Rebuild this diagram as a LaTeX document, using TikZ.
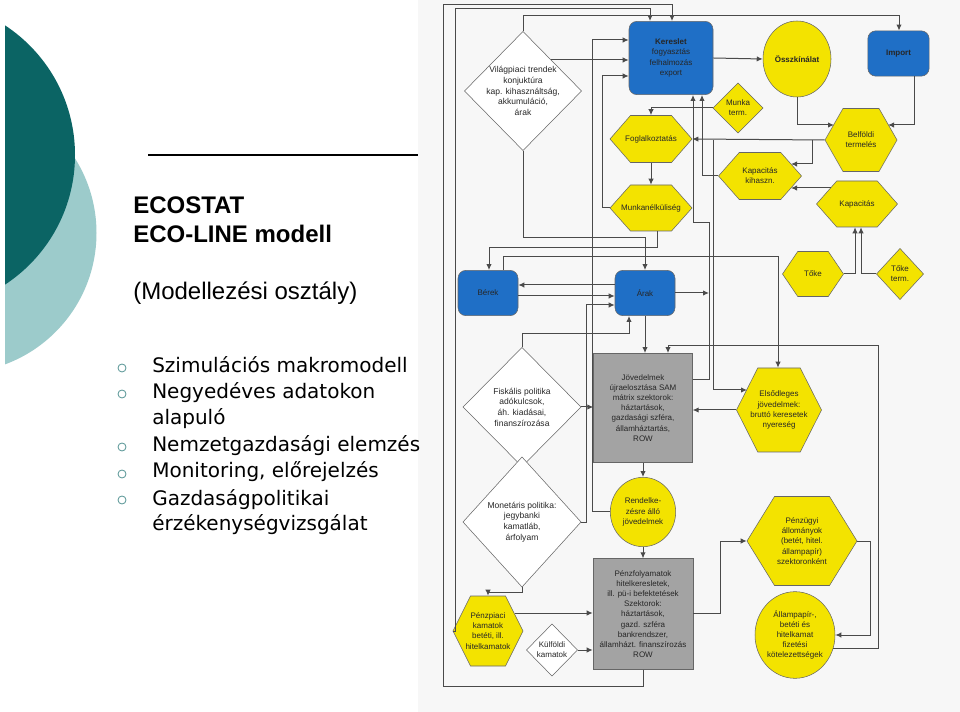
\documentclass[tikz,border=0pt]{standalone}
\usepackage{fontspec}
\setmainfont{Liberation Sans}
\newfontfamily\vfont{DejaVu Sans}
\usetikzlibrary{arrows.meta,shapes.geometric}
\definecolor{dteal}{HTML}{0B6464}
\definecolor{lteal}{HTML}{9CCBCB}
\definecolor{bblue}{HTML}{1F6FC6}
\definecolor{yel}{HTML}{F3E300}
\definecolor{gbox}{HTML}{A3A3A3}
\definecolor{lin}{HTML}{4A4A4A}
\tikzset{
 arr/.style={draw=lin,line width=0.75pt,-{Latex[length=4.5pt,width=4pt]}},
 lbl/.style={font=\fontsize{6}{7.6}\selectfont,align=center,text=black!85,inner sep=0pt},
 bigl/.style={font=\fontsize{6.4}{8}\selectfont},
 bluebox/.style={draw=black!60,fill=bblue,rounded corners=6pt,lbl},
 graybox/.style={draw=black!60,fill=gbox,lbl},
 elli/.style={draw=black!60,fill=yel,ellipse,lbl},
 bul/.style={font=\vfont\fontsize{15}{17}\selectfont,anchor=base west,inner sep=0pt}
}
\newcommand\hexn[6]{%
 \fill[yel,draw=black!60] ({#2-#4/2},#3) -- ({#2-#4/4},{#3-#5/2}) -- ({#2+#4/4},{#3-#5/2}) -- ({#2+#4/2},#3) -- ({#2+#4/4},{#3+#5/2}) -- ({#2-#4/4},{#3+#5/2}) -- cycle;
 \node[lbl,minimum width=#4*0.75pt,minimum height=#5*0.75pt] (#1) at (#2,#3) {#6};}
\newcommand\diam[8]{%
 \fill[#7,draw=black!60] ({#2-#4/2},#3) -- (#2,{#3-#5/2}) -- ({#2+#4/2},#3) -- (#2,{#3+#5/2}) -- cycle;
 \node[lbl,#8,minimum width=#4*0.75pt,minimum height=#5*0.75pt] (#1) at (#2,#3) {#6};}
\begin{document}
\begin{tikzpicture}[x=0.75pt,y=-0.75pt]
\useasboundingbox (0,0) rectangle (960,712);
\fill[white] (0,0) rectangle (960,712);
\fill[gray!6] (418,0) rectangle (960,712);
% left decoration
\begin{scope}
\clip (5,0) rectangle (300,712);
\fill[lteal] (-43.5,233) circle (140);
\fill[dteal] (-80,155) circle (155);
\end{scope}
\draw[black,line width=0.8pt] (148,155) -- (418,155);
\node[font=\bfseries\fontsize{18}{20}\selectfont,anchor=base west,inner sep=0pt] (t1) at (133,214) {ECOSTAT};
\node[font=\bfseries\fontsize{18}{20}\selectfont,anchor=base west,inner sep=0pt] (t2) at (133,243) {ECO-LINE modell};
\node[font=\fontsize{18}{20}\selectfont,anchor=base west,inner sep=0pt] (t3) at (133,300) {(Modellezési osztály)};
\foreach \y/\t [count=\i] in {373/Szimulációs makromodell,399/Negyedéves adatokon,425/alapuló,452/Nemzetgazdasági elemzés,478/{Monitoring, előrejelzés},505/Gazdaságpolitikai,531/érzékenységvizsgálat}{
  \node[bul] (b\i) at (152,\y) {\t};}
\foreach \y in {368,394,447,474,500}{\draw[dteal!70,line width=0.6pt] (122,\y) circle (4);}
% diagram nodes
\node[bluebox,minimum width=63pt,minimum height=55pt] (ker) at (671,58) {\textbf{Kereslet}\\fogyasztás\\felhalmozás\\export};
\node[elli,minimum width=51pt,minimum height=57pt] (ossz) at (797,59) {\textbf{Összkínálat}};
\node[bluebox,minimum width=46pt,minimum height=34pt] (imp) at (898.5,53.5) {\textbf{Import}};
\diam{vil}{523}{91}{117}{119}{Világpiaci trendek\\konjuktúra\\kap. kihasználtság,\\akkumuláció,\\árak}{white}{bigl}
\diam{mt}{738}{108}{50}{50}{Munka\\term.}{yel}{}
\hexn{fog}{651}{139}{82}{47}{Foglalkoztatás}
\hexn{bel}{861}{140}{72}{63}{Belföldi\\termelés}
\hexn{kk}{760}{176}{83}{47}{Kapacitás\\kihaszn.}
\hexn{mun}{651}{208}{82}{46}{Munkanélküliség}
\hexn{kap}{857}{204}{81}{46}{Kapacitás}
\hexn{toke}{813}{274}{61}{45}{Tőke}
\diam{tt}{900}{274}{47}{51}{Tőke\\term.}{yel}{}
\node[bluebox,minimum width=45pt,minimum height=34pt] (ber) at (488,293) {Bérek};
\node[bluebox,minimum width=45pt,minimum height=34pt] (arak) at (645,293) {Árak};
\diam{fis}{522}{407}{118}{119}{Fiskális politika\\adókulcsok,\\áh. kiadásai,\\finanszírozása}{white}{bigl}
\diam{mon}{522}{522}{118}{130}{Monetáris politika:\\jegybanki\\kamatláb,\\árfolyam}{white}{bigl}
\node[graybox,minimum width=74pt,minimum height=82pt] (jov) at (643,408) {Jövedelmek\\újraelosztása SAM\\mátrix szektorok:\\háztartások,\\gazdasági szféra,\\államháztartás,\\ROW};
\hexn{els}{779}{410}{85}{84}{Elsődleges\\jövedelmek:\\bruttó keresetek\\nyereség}
\node[elli,minimum width=49pt,minimum height=52pt] (ren) at (643,512) {Rendelke-\\zésre álló\\jövedelmek};
\hexn{pu}{802}{541}{110}{89}{Pénzügyi\\állományok\\(betét, hitel.\\állampapír)\\szektoronként}
\node[graybox,minimum width=75pt,minimum height=83pt] (pf) at (643,614) {Pénzfolyamatok\\hitelkeresletek,\\ill. pü-i befektetések\\Szektorok:\\háztartások,\\gazd. szféra\\bankrendszer,\\államházt. finanszírozás\\ROW};
\hexn{pp}{488}{631}{70}{70}{Pénzpiaci\\kamatok\\betéti, ill.\\hitelkamatok}
\diam{kul}{552}{650}{51}{52}{Külföldi\\kamatok}{white}{}
\node[elli,minimum width=60pt,minimum height=65pt] (all) at (795,635) {Állampapír-,\\betéti és\\hitelkamat\\fizetési\\kötelezettségek};
% connectors
\draw[arr] (pf.south) |- (443,686) |- (672,5) -- (ker.north -| 672,0);
\draw[arr] (pp.west) -| (455,9) -| (ker.north -| 650,0);
\draw[arr] (vil.north) |- (899,16) -- (imp.north -| 899,0);
\draw[arr] (vil.center) ++(28,-31) -- (ker.west |- 0,60);
\draw[arr] (ren.west) -| (592,40) -- (ker.west |- 0,40);
\draw[arr] (mun.west) -| (602,76) -- (ker.west |- 0,76);
\draw[arr] (ker.east) -- (ossz.west);
\draw[arr] (ossz.south) |- (834,125);
\draw[arr] (imp.south -| 914,0) |- (888,125);
\draw[arr] (bel.west) -- (fog.east);
\draw[arr] (812,140) |- (791,164);
\draw[arr] (mt.west) -| (fog.north);
\draw[arr] (fog.south) -- (mun.north);
\draw[arr] (831,188) -- (791,188);
\draw[arr] (kk.west) -| (ker.south -| 702,0);
\draw[arr] (jov.east |- 0,380) -| (709,223) -| (ker.south -| 693,0);
\draw[arr] (713,140) |- (747,390);
\draw[arr] (toke.east) -| (kap.south -| 855,0);
\draw[arr] (tt.west) -| (kap.south -| 861,0);
\draw[arr] (mun.south -| 657,0) |- (489,248) -- (ber.north -| 489,0);
\draw[arr] (ber.north -| 503,0) |- (778,257) -- (els.north -| 778,0);
\draw[arr] (vil.south) |- (645,238) -- (arak.north);
\draw[arr] (arak.west |- 0,285) -- (ber.east |- 0,285);
\draw[arr] (ber.east |- 0,296) -- (arak.west |- 0,296);
\draw[arr] (mon.east) -| (586,305) -- (arak.west |- 0,305);
\draw[arr] (arak.east) -- (709,293);
\draw[arr] (fis.north) |- (629,334) -- (arak.south -| 629,0);
\draw[arr] (arak.south) -- (jov.north -| arak.south);
\draw[arr] (fis.east) -- (jov.west |- fis.east);
\draw[arr] (els.west) -- (jov.east |- els.west);
\draw[arr] (833,648) -| (878,346) -| (jov.north -| 668,0);
\draw[arr] (pu.east) -| (870,635) -- (all.east);
\draw[arr] (jov.south) -- (ren.north);
\draw[arr] (ren.south) -- (pf.north);
\draw[arr] (pf.east |- 0,613) -| (720,541) -- (pu.west);
\draw[arr] (mon.south) |- (488,592) -- (pp.north);
\draw[arr] (515,613) -- (pf.west |- 0,613);
\draw[arr] (kul.east) -- (pf.west |- kul.east);
\end{tikzpicture}
\end{document}
